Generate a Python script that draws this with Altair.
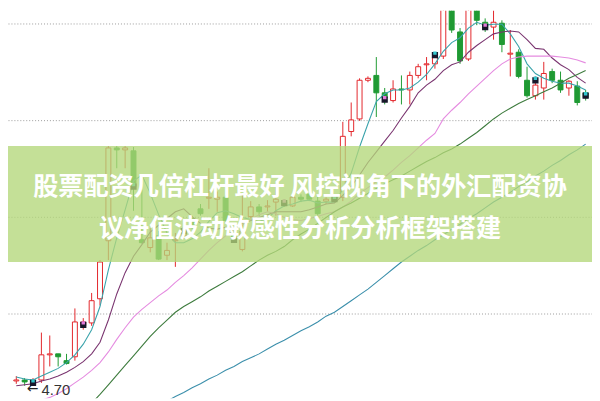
import altair as alt
import pandas as pd

# ---- candle data (price) ----
OPEN = [4.725,4.73,4.715,4.73,4.86,4.865,4.83,4.85,5.01,5.025,
        5.15,5.45,5.93,5.92,5.915,5.455,5.415,5.475,5.375,5.45,
        5.475,5.565,5.615,5.67,5.665,5.675,5.48,5.405,5.575,5.625,
        5.625,5.65,5.65,5.63,5.675,5.69,5.655,5.655,5.675,5.675,
        6.015,6.08,6.28,6.305,6.215,6.175,6.235,6.23,6.305,6.36,
        6.365,6.405,6.715,6.53,6.39,6.665,6.58,6.555,6.575,6.415,
        6.425,6.28,6.20,6.24,6.325,6.28,6.24,6.25,6.215]
HIGH = [4.75,4.74,4.74,4.975,4.96,4.865,4.865,5.10,5.05,5.18,
        5.35,5.94,5.94,5.94,5.935,5.715,5.515,5.50,5.44,5.49,
        5.54,5.58,5.64,5.825,5.705,5.685,5.50,5.69,5.655,5.64,
        5.66,5.73,5.665,5.685,5.69,5.70,5.68,5.675,5.69,6.065,
        6.165,6.29,6.30,6.40,6.24,6.28,6.305,6.325,6.365,6.40,
        6.415,6.765,6.74,6.55,6.715,6.69,6.60,6.665,6.59,6.54,
        6.44,6.35,6.30,6.375,6.34,6.325,6.28,6.275,6.23]
LOW = [4.71,4.70,4.705,4.715,4.80,4.80,4.81,4.83,4.99,5.01,
       5.115,5.35,5.825,5.825,5.605,5.435,5.39,5.35,5.35,5.315,
       5.46,5.51,5.58,5.615,5.60,5.55,5.44,5.395,5.565,5.575,
       5.60,5.58,5.625,5.625,5.65,5.655,5.565,5.64,5.645,5.655,
       5.99,6.07,6.27,6.09,6.155,6.165,6.155,6.155,6.29,6.28,
       6.34,6.39,6.525,6.365,6.38,6.565,6.53,6.49,6.425,6.30,
       6.29,6.19,6.18,6.18,6.265,6.215,6.20,6.15,6.175]
CLOSE = [4.73,4.72,4.73,4.86,4.865,4.85,4.815,5.03,5.03,5.14,
         5.34,5.93,5.92,5.93,5.73,5.44,5.465,5.355,5.40,5.455,
         5.505,5.53,5.59,5.675,5.675,5.555,5.45,5.50,5.625,5.60,
         5.63,5.665,5.635,5.675,5.665,5.665,5.59,5.665,5.655,5.99,
         6.075,6.28,6.29,6.215,6.19,6.235,6.23,6.305,6.35,6.365,
         6.40,6.74,6.54,6.38,6.69,6.59,6.55,6.58,6.465,6.42,
         6.30,6.20,6.255,6.315,6.28,6.23,6.275,6.165,6.19]

# ---- moving-average lines (price per candle) ----
MA5 = [4.745,4.735,4.73,4.75,4.77,4.79,4.82,4.86,4.915,4.99,
       5.11,5.30,5.465,5.61,5.76,5.79,5.695,5.585,5.49,5.44,
       5.44,5.46,5.495,5.55,5.595,5.605,5.59,5.57,5.56,5.55,
       5.565,5.605,5.63,5.64,5.655,5.66,5.645,5.65,5.65,5.715,
       5.80,5.935,6.055,6.17,6.21,6.23,6.23,6.24,6.27,6.31,
       6.365,6.43,6.475,6.50,6.55,6.58,6.565,6.57,6.57,6.52,
       6.455,6.365,6.315,6.29,6.275,6.265,6.265,6.25,6.23]
MA10 = [4.70,4.705,4.71,4.725,4.735,4.75,4.77,4.795,4.825,4.865,
        4.925,5.04,5.175,5.285,5.37,5.43,5.495,5.53,5.565,5.60,
        5.615,5.575,5.54,5.515,5.51,5.52,5.52,5.535,5.555,5.57,
        5.585,5.60,5.60,5.60,5.60,5.61,5.625,5.64,5.645,5.685,
        5.73,5.79,5.855,5.91,5.965,6.02,6.085,6.145,6.215,6.255,
        6.285,6.33,6.36,6.375,6.425,6.46,6.49,6.52,6.53,6.535,
        6.53,6.49,6.445,6.44,6.395,6.36,6.335,6.295,6.265]
MA20 = [4.59,4.60,4.61,4.625,4.64,4.66,4.685,4.715,4.745,4.78,
        4.82,4.875,4.94,5.00,5.055,5.095,5.13,5.165,5.195,5.235,
        5.27,5.31,5.355,5.40,5.44,5.475,5.505,5.535,5.56,5.585,
        5.60,5.59,5.57,5.56,5.555,5.565,5.575,5.59,5.60,5.625,
        5.655,5.695,5.725,5.755,5.78,5.815,5.855,5.89,5.93,5.97,
        6.005,6.08,6.125,6.165,6.21,6.25,6.29,6.33,6.365,6.39,
        6.40,6.405,6.405,6.405,6.405,6.40,6.395,6.385,6.37]
MA60 = [None] * 8 + [
        4.575,4.61,4.655,4.705,4.755,4.805,4.855,4.905,4.955,5.00,
        5.04,5.08,5.11,5.135,5.16,5.19,5.215,5.24,5.265,5.29,
        5.32,5.35,5.375,5.395,5.42,5.455,5.485,5.51,5.54,5.57,
        5.60,5.625,5.645,5.67,5.695,5.72,5.745,5.765,5.785,5.81,
        5.835,5.86,5.88,5.905,5.925,5.95,5.98,6.01,6.045,6.08,
        6.11,6.135,6.16,6.18,6.20,6.22,6.24,6.265,6.29,6.31,6.33]
MA120 = [None] * 17 + [
        4.595,4.62,4.645,4.665,4.69,4.71,4.735,4.755,4.78,4.80,
        4.825,4.845,4.865,4.89,4.915,4.935,4.96,4.985,5.005,5.03,
        5.06,5.08,5.11,5.14,5.17,5.20,5.235,5.27,5.305,5.34,
        5.37,5.40,5.425,5.455,5.48,5.51,5.535,5.565,5.59,5.62,
        5.65,5.675,5.70,5.73,5.755,5.785,5.81,5.84,5.865,5.895,
        5.92,5.95]

# ---- small event markers ----
MARK_IDX = [2, 8, 14, 20, 26, 32, 38, 44, 50, 56, 62, 68]
MARK_PRICE = [4.715, 5.015, 5.73, 5.50, 5.455, 5.645, 5.665, 6.18, 6.41, 6.555, 6.28, 6.20]
MARK_TOP = ["#33c6cc", "#e27ad8", "#33c6cc", "#e27ad8", "#33c6cc", "#e27ad8",
            "#33c6cc", "#e27ad8", "#33c6cc", "#e27ad8", "#33c6cc", "#33c6cc"]

GRID_VALUES = [5.075, 5.575, 6.075, 6.575]
TITLE_1 = "股票配资几倍杠杆最好 风控视角下的外汇配资协"
TITLE_2 = "议净值波动敏感性分析分析框架搭建"
BANNER_TOP, BANNER_BOTTOM = 5.94, 5.34

RED = "#e3262b"
GREEN = "#1f9a33"
W, H = 592, 393

n = len(OPEN)
df = pd.DataFrame({"i": list(range(n)), "open": OPEN, "high": HIGH,
                   "low": LOW, "close": CLOSE})
df["dir"] = ["up" if c >= o else "down" for o, c in zip(OPEN, CLOSE)]

xs = alt.Scale(domain=[-0.4, 68.17], nice=False, zero=False)
ys = alt.Scale(domain=[4.635, 6.64], nice=False, zero=False)
X = alt.X("i:Q", scale=xs, axis=None)

base = alt.Chart(df)

wicks = base.mark_rule(strokeWidth=1, clip=True).encode(
    x=X,
    y=alt.Y("low:Q", scale=ys, axis=alt.Axis(values=GRID_VALUES, grid=True, labels=False,
                                              ticks=False, domain=False, title=None,
                                              gridDash=[1, 2], gridColor="#9a9a9a",
                                              gridWidth=1)),
    y2="high:Q",
    color=alt.Color("dir:N", scale=alt.Scale(domain=["up", "down"], range=[RED, GREEN]),
                    legend=None),
)

up_bodies = base.transform_filter("datum.dir == 'up'").mark_bar(
    size=5, fill="white", stroke=RED, strokeWidth=1, clip=True
).encode(x=X, y=alt.Y("open:Q", scale=ys), y2="close:Q")

down_bodies = base.transform_filter("datum.dir == 'down'").mark_bar(
    size=5, fill=GREEN, stroke=GREEN, strokeWidth=1, clip=True
).encode(x=X, y=alt.Y("open:Q", scale=ys), y2="close:Q")

series = {"MA5": MA5, "MA10": MA10, "MA20": MA20, "MA60": MA60, "MA120": MA120}
rows = []
for name, vals in series.items():
    for i, v in enumerate(vals):
        if v is not None:
            rows.append({"i": i, "v": v, "s": name})
ma = pd.DataFrame(rows)
lines = alt.Chart(ma).mark_line(strokeWidth=1.1, clip=True).encode(
    x=X,
    y=alt.Y("v:Q", scale=ys),
    stroke=alt.Stroke("s:N", scale=alt.Scale(
        domain=["MA5", "MA10", "MA20", "MA60", "MA120"],
        range=["#3aa3ab", "#7a3570", "#e58be0", "#3d7b3d", "#3b8fab"]), legend=None),
    detail="s:N",
    order="i:Q",
)

mk = pd.DataFrame({"i": MARK_IDX, "p": MARK_PRICE, "c": MARK_TOP})
marks_bottom = alt.Chart(mk).mark_square(size=40, color="#17172a", opacity=1, clip=True).encode(
    x=X, y=alt.Y("p:Q", scale=ys))
marks_top = alt.Chart(mk).mark_square(size=12, opacity=1, clip=True, yOffset=-2).encode(
    x=X, y=alt.Y("p:Q", scale=ys), fill=alt.Fill("c:N", scale=None))

low_i = LOW.index(min(LOW))
lowdf = pd.DataFrame({"i": [low_i], "p": [min(LOW)], "t": [f"{min(LOW):.2f}"]})
low_text = alt.Chart(lowdf).mark_text(
    align="left", baseline="alphabetic", dx=17, dy=9, fontSize=15,
    font="Liberation Sans", color="#333333"
).encode(x=X, y=alt.Y("p:Q", scale=ys), text="t:N")
low_arrow = alt.Chart(lowdf).mark_text(
    align="center", baseline="middle", dx=8, dy=3, fontSize=14,
    font="DejaVu Sans", color="#222222", text="←"
).encode(x=X, y=alt.Y("p:Q", scale=ys))

banner_df = pd.DataFrame({"top": [BANNER_TOP], "bot": [BANNER_BOTTOM]})
banner = alt.Chart(banner_df).mark_rect(color="#b4d77a", opacity=0.78).encode(
    x=alt.value(0), x2=alt.value(W),
    y=alt.Y("top:Q", scale=ys), y2="bot:Q")

t1 = alt.Chart(pd.DataFrame({"t": [TITLE_1]})).mark_text(
    fontSize=25.5, fontWeight="bold", font="Noto Sans CJK SC", color="white",
    align="center", baseline="middle"
).encode(text="t:N", x=alt.value(W / 2), y=alt.value(179))
t2 = alt.Chart(pd.DataFrame({"t": [TITLE_2]})).mark_text(
    fontSize=25.5, fontWeight="bold", font="Noto Sans CJK SC", color="white",
    align="center", baseline="middle"
).encode(text="t:N", x=alt.value(W / 2), y=alt.value(221))

chart = alt.layer(
    wicks, up_bodies, down_bodies, lines, marks_bottom, marks_top,
    low_arrow, low_text, banner, t1, t2
).resolve_scale(color="independent", stroke="independent", fill="independent").properties(
    width=W, height=H, padding=0,
    autosize=alt.AutoSizeParams(type="none")
).configure_view(stroke=None)

chart.save("out.html", embed_options={"renderer": "svg", "actions": False})
